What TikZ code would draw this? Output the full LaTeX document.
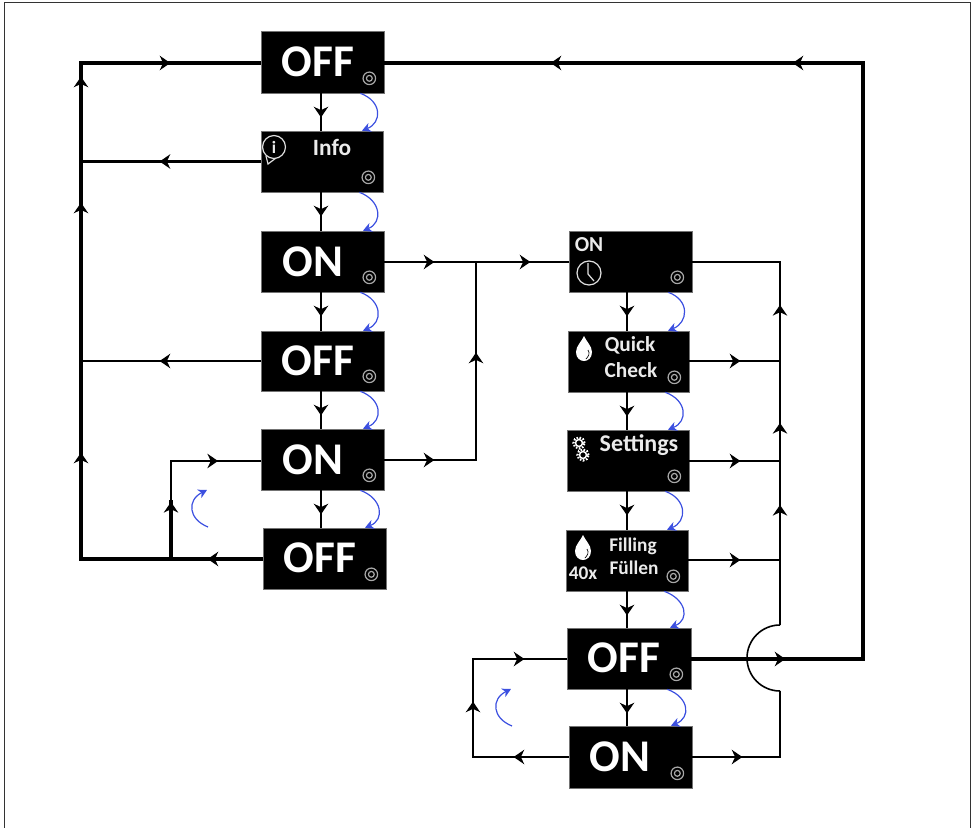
\documentclass[tikz,border=0pt]{standalone}
\usepackage{fontspec}
\setmainfont{Carlito}
\usetikzlibrary{arrows.meta,decorations.markings,calc}
\definecolor{bluearc}{HTML}{3B4FE0}
\definecolor{ringgray}{HTML}{A8A8A8}
\definecolor{framegray}{HTML}{333333}
\tikzset{
  box/.style={draw=black!55,line width=0.5pt,fill=black,inner sep=0pt},
  bigtext/.style={text=white,font=\fontsize{34}{34}\selectfont\bfseries,inner sep=0pt},
  smalltext/.style={text=white!92!black,font=\fontsize{#1}{#1}\selectfont\bfseries,inner sep=0pt},
  heavy/.style={line width=2.3pt,line join=miter},
  light/.style={line width=1.6pt,line join=miter},
  tipat/.style={postaction={decorate,decoration={markings,mark=at position (#1+5)*0.75pt with {\arrow[line width=0pt]{Stealth[length=8pt,width=11pt,inset=2.6pt]}}}}},
  bluecurve/.style={draw=bluearc,line width=0.9pt,-{Stealth[length=6.5pt,width=7pt,inset=2pt]}},
  ring/.style={draw=ringgray,line width=0.9pt},
  iconline/.style={draw=white!88!black,line width=0.9pt},
}
\newcommand{\mybox}[5]{%
  \pgfmathsetmacro{\mybw}{(#4-#2)*0.75}\pgfmathsetmacro{\mybh}{(#5-#3)*0.75}%
  \node[box,minimum width=\mybw pt,minimum height=\mybh pt] (#1) at ({(#2+#4)/2},{(#3+#5)/2}) {};%
  \draw[ring] ([shift={(-15,-15)}]#1.south east) circle[radius=4.7pt];%
  \draw[ring] ([shift={(-15,-15)}]#1.south east) circle[radius=2.2pt];%
}
\newcommand{\downflow}[3]{%
  \draw[light,tipat=19] (#1.south -| #3) -- (#2.north -| #3);%
  \draw[bluecurve] ([xshift=-18pt]#1.south east) .. controls +(22,8) and +(20,-8) .. ([xshift=-16pt]#2.north east);%
}
\newcommand{\droplet}[2]{%
  \begin{scope}[shift={(#1,#2)}]
  \fill[white] (0,0) .. controls (2,5) and (8,10) .. (8,16) .. controls (8,22) and (4,25) .. (0,25)
    .. controls (-4,25) and (-8,22) .. (-8,16) .. controls (-8,10) and (-2,5) .. (0,0) -- cycle;
  \draw[black,line width=0.5pt] (4,14) .. controls (6,17) and (5,20) .. (2,23);
  \end{scope}%
}
\newcommand{\gearicon}[3]{%
  \draw[white,line width=1.1pt] (#1,#2) circle[radius=#3*0.62pt];%
  \draw[white,line width=1.6pt,dash pattern=on 1.2pt off 1.2pt] (#1,#2) circle[radius=#3*1.0pt];%
}
\begin{document}
\begin{tikzpicture}[x=0.75pt,y=-0.75pt]
\useasboundingbox (0,0) rectangle (976,828);
\draw[framegray,line width=0.75pt] (4,828) -- (4,2) -- (970,2) -- (970,828);

% left column
\mybox{offA}{261}{31}{384}{93}
\mybox{info}{261}{131}{383}{192}
\mybox{onA}{261}{231}{384}{292}
\mybox{offB}{261}{331}{384}{391}
\mybox{onB}{261}{429}{384}{490}
\mybox{offC}{263}{528}{386}{589}
% right column
\mybox{onC}{569}{231}{692}{292}
\mybox{quick}{568}{331}{689}{392}
\mybox{settings}{567}{430}{689}{491}
\mybox{filling}{566}{530}{688}{591}
\mybox{offD}{567}{628}{691}{689}
\mybox{onD}{569}{726}{692}{788}

% texts
\node[bigtext] (tOffA) at (318,62) {OFF};
\node[smalltext=17.5] (tInfo) at (332,147) {Info};
\node[bigtext] (tOnA) at (313,262) {ON};
\node[bigtext] (tOffB) at (318,361) {OFF};
\node[bigtext] (tOnB) at (313,460) {ON};
\node[bigtext] (tOffC) at (320,558) {OFF};
\node[smalltext=16] (tOnC) at (589,245) {ON};
\node[smalltext=16] (tQuick) at (630,345) {Quick};
\node[smalltext=16] (tCheck) at (631,370) {Check};
\node[smalltext=18] (tSettings) at (639,445) {Settings};
\node[smalltext=14.5] (tFilling) at (633,546) {Filling};
\node[smalltext=14.5] (tFuellen) at (634,568) {Füllen};
\node[smalltext=14.5] (tForty) at (583,573) {40x};
\node[bigtext] (tOffD) at (624,658) {OFF};
\node[bigtext] (tOnD) at (620,757) {ON};

% icons
\draw[iconline] (266,156) -- (268,164) -- (276,158);
\draw[iconline,fill=black] (274,147) circle[radius=8.6pt];
\node[smalltext=13] (tI) at (274,147) {i};
\draw[iconline] (589,273) circle[radius=9pt];
\draw[iconline] (588,263) -- (588,274) -- (594,281);
\droplet{584}{336}
\droplet{583}{535}
\gearicon{579}{443}{4.2}
\gearicon{583}{455}{4.2}

% axis coordinates
\coordinate (axL) at (321,0);
\coordinate (axR) at (627,0);
\coordinate (busL) at (81,63);
\coordinate (busLb) at (81,559);
\coordinate (branch) at (171,559);
\coordinate (branchM) at (171,500);
\coordinate (branchT) at (171,461);
\coordinate (midT) at (476,262);
\coordinate (midB) at (476,460);
\coordinate (busR) at (780,262);
\coordinate (arcT) at (780,625);
\coordinate (arcB) at (780,691);
\coordinate (busRb) at (780,757);
\coordinate (outR) at (863,659);
\coordinate (outT) at (863,63);
\coordinate (loopTL) at (473,659);
\coordinate (loopBL) at (473,757);

% vertical flows with blue curves
\downflow{offA}{info}{axL}
\downflow{info}{onA}{axL}
\downflow{onA}{offB}{axL}
\downflow{offB}{onB}{axL}
\downflow{onB}{offC}{axL}
\downflow{onC}{quick}{axR}
\downflow{quick}{settings}{axR}
\downflow{settings}{filling}{axR}
\downflow{filling}{offD}{axR}
\downflow{offD}{onD}{axR}

% left bus
\draw[heavy,tipat=50,tipat=283,tipat=533,tipat=659,tipat=762]
  (busLb -| offC.west) -- (busLb) -- (busL) -- (busL -| offA.west);
\draw[heavy,tipat=96] (info.west) -- (info.west -| busL);
\draw[light,tipat=96] (offB.west) -- (offB.west -| busL);
\draw[heavy,tipat=52] (branch) -- (branchM);
\draw[light,tipat=81] (branchM) -- (branchT) -- (branchT -| onB.west);

% middle
\draw[light,tipat=45,tipat=141] (onA.east |- midT) -- (midT) -- (midT -| onC.west);
\draw[light,tipat=45,tipat=194] (midB -| onB.east) -- (midB) -- (midT);

% right bus
\draw[light,tipat=46] (quick.east |- 0,361) -- (780,361);
\draw[light,tipat=46] (settings.east |- 0,461) -- (780,461);
\draw[light,tipat=47] (filling.east |- 0,560) -- (780,560);
\draw[light,tipat=45] (onD.east |- busRb) -- (busRb) -- (arcB);
\draw[line width=1.2pt] (arcB) arc[start angle=-90,end angle=-270,radius=24.75pt];
\draw[light,tipat=115,tipat=197,tipat=315] (arcT) -- (busR) -- (busR -| onC.east);

% return line
\draw[heavy,tipat=89,tipat=833,tipat=1075]
  (outR -| offD.east) -- (outR) -- (outT) -- (outT -| offA.east);

% bottom loop
\draw[light,tipat=50,tipat=146,tipat=240]
  (onD.west |- loopBL) -- (loopBL) -- (loopTL) -- (loopTL -| offD.west);

% free blue arcs
\coordinate (ccwA) at (208,527);
\coordinate (ccwB) at (207,490);
\coordinate (ccwC) at (512,726);
\coordinate (ccwD) at (511,689);
\draw[bluecurve] (ccwA) .. controls +(-20,-8) and +(-20,10) .. (ccwB);
\draw[bluecurve] (ccwC) .. controls +(-20,-8) and +(-20,10) .. (ccwD);
\end{tikzpicture}
\end{document}
